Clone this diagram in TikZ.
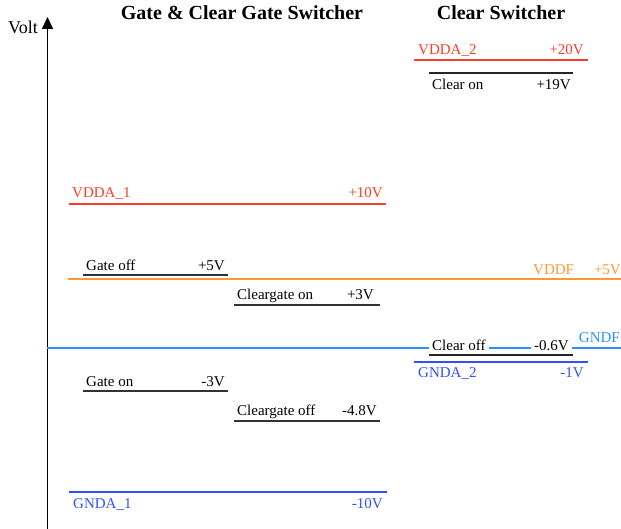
\documentclass[tikz,border=0pt]{standalone}
\usepackage{fontspec}
\setmainfont{Liberation Serif}
\usetikzlibrary{arrows.meta}
\definecolor{vddred}{RGB}{250,62,40}
\definecolor{vddorange}{RGB}{255,152,48}
\definecolor{gndfblue}{RGB}{40,145,255}
\definecolor{gndablue}{RGB}{48,80,250}
\tikzset{
  lvl/.style={line width=2pt},
  lbl/.style={inner sep=0pt, font=\fontsize{15}{18}\selectfont},
  lblL/.style={lbl, anchor=base west},
  lblR/.style={lbl, anchor=base east},
  knock/.style={fill=white, inner xsep=3pt, inner ysep=0pt},
  ttl/.style={inner sep=0pt, anchor=base, font=\fontsize{20}{24}\selectfont\bfseries},
}
\begin{document}
\begin{tikzpicture}[x=1pt,y=-1pt]
\useasboundingbox (0,0) rectangle (621,529);

% titles and axis
\node[ttl] (t1) at (242,20) {Gate \& Clear Gate Switcher};
\node[ttl] (t2) at (501,20) {Clear Switcher};
\node[inner sep=0pt, anchor=base west, font=\fontsize{18}{20}\selectfont] (volt) at (8,34) {Volt};
\coordinate (ax0) at (47.5,529);
\coordinate (ax1) at (47.5,17);
\draw[line width=1.6pt, -{Triangle[length=12pt,width=11pt]}] (ax0) -- (ax1);

% VDDA_2 (+20V)
\coordinate (a2l) at (414,60); \coordinate (a2r) at (588,60);
\draw[lvl, vddred] (a2l) -- (a2r);
\node[lblL, text=vddred] (vdda2) at (418,55) {VDDA\_2};
\node[lblR, text=vddred] (vdda2v) at (584,55) {+20V};

% Clear on (+19V)
\coordinate (conl) at (429,73); \coordinate (conr) at (573,73);
\draw[lvl, black!85] (conl) -- (conr);
\node[lblL] (con) at (432,90) {Clear on};
\node[lblR] (conv) at (571,90) {+19V};

% VDDA_1 (+10V)
\coordinate (a1l) at (69,204); \coordinate (a1r) at (386,204);
\draw[lvl, vddred] (a1l) -- (a1r);
\node[lblL, text=vddred] (vdda1) at (72,198) {VDDA\_1};
\node[lblR, text=vddred] (vdda1v) at (383,198) {+10V};

% Gate off (+5V)
\coordinate (gofl) at (83,275); \coordinate (gofr) at (228,275);
\draw[lvl, black!80] (gofl) -- (gofr);
\node[lblL] (goff) at (86,271) {Gate off};
\node[lblR] (goffv) at (225,271) {+5V};

% VDDF (+5V)
\coordinate (vfl) at (68,279); \coordinate (vfr) at (621,279);
\draw[lvl, vddorange] (vfl) -- (vfr);
\node[lblL, text=vddorange] (vddf) at (533,275) {VDDF};
\node[lblR, text=vddorange] (vddfv) at (621,275) {+5V};

% Cleargate on (+3V)
\coordinate (cgonl) at (234,305); \coordinate (cgonr) at (380,305);
\draw[lvl, black!80] (cgonl) -- (cgonr);
\node[lblL] (cgon) at (237,299) {Cleargate on};
\node[lblR] (cgonv) at (374,299) {+3V};

% GNDF (0V)
\coordinate (gfl) at (47,348); \coordinate (gfr) at (621,348);
\draw[lvl, gndfblue] (gfl) -- (gfr);
\node[lblR, text=gndfblue] (gndf) at (620,342) {GNDF};

% Clear off (-0.6V), labels sit over the GNDF line
\coordinate (cofl) at (429,355); \coordinate (cofr) at (573,355);
\draw[lvl, black!85] (cofl) -- (cofr);
\node[lblL, knock] (coff) at (429,350) {Clear off};
\node[lblR, knock] (coffv) at (572,350) {-0.6V};

% GNDA_2 (-1V)
\coordinate (g2l) at (414,362); \coordinate (g2r) at (588,362);
\draw[lvl, gndablue] (g2l) -- (g2r);
\node[lblL, text=gndablue] (gnda2) at (418,377) {GNDA\_2};
\node[lblR, text=gndablue] (gnda2v) at (584,377) {-1V};

% Gate on (-3V)
\coordinate (gonl) at (83,391); \coordinate (gonr) at (228,391);
\draw[lvl, black!80] (gonl) -- (gonr);
\node[lblL] (gon) at (86,386) {Gate on};
\node[lblR] (gonv) at (225,386) {-3V};

% Cleargate off (-4.8V)
\coordinate (cgofl) at (234,421); \coordinate (cgofr) at (380,421);
\draw[lvl, black!80] (cgofl) -- (cgofr);
\node[lblL] (cgoff) at (237,415) {Cleargate off};
\node[lblR] (cgoffv) at (377,415) {-4.8V};

% GNDA_1 (-10V)
\coordinate (g1l) at (69,492); \coordinate (g1r) at (387,492);
\draw[lvl, gndablue] (g1l) -- (g1r);
\node[lblL, text=gndablue] (gnda1) at (73,508) {GNDA\_1};
\node[lblR, text=gndablue] (gnda1v) at (383,508) {-10V};
\end{tikzpicture}
\end{document}
